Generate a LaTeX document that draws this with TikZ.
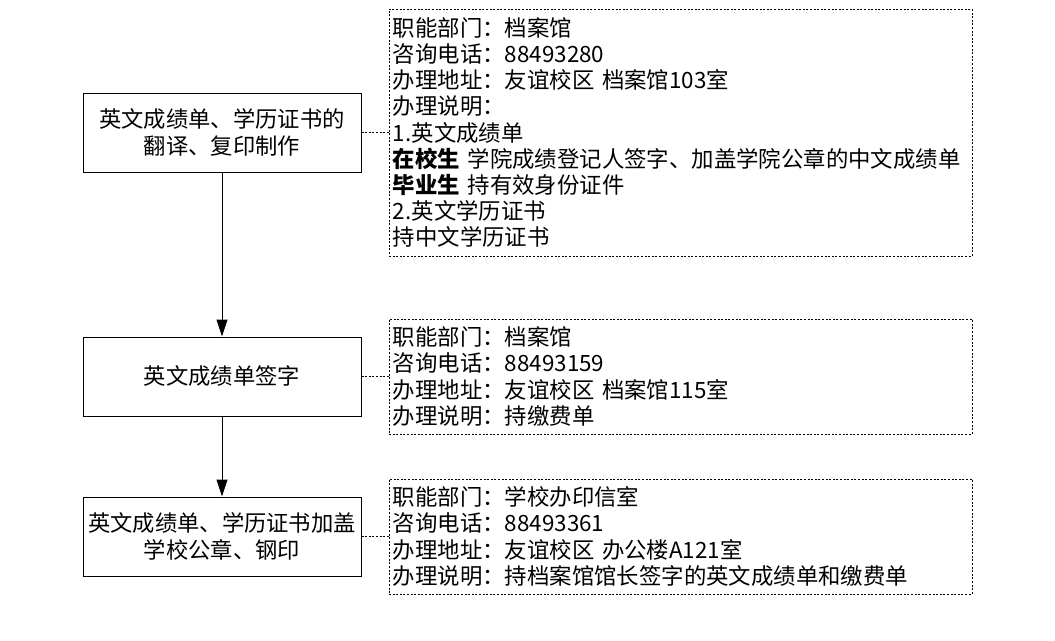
\documentclass[tikz,border=0pt]{standalone}
\usepackage{fontspec}
\newfontfamily\cjk{Noto Sans CJK SC}
\usepackage{tikz}
\usetikzlibrary{positioning,arrows.meta}
\tikzset{
  stepbox/.style={draw, line width=1pt, minimum width=278pt, minimum height=79pt, align=center, inner sep=2pt, font={\cjk\fontsize{22.3pt}{26.2pt}\selectfont}},
  infobox/.style={draw, dash pattern=on 2pt off 1.6pt, line width=0.9pt, text width=575pt, inner xsep=4pt, inner ysep=2pt, align=left, font={\cjk\fontsize{22.4pt}{26.2pt}\selectfont}},
  arr/.style={-{Triangle[length=17pt,width=11pt]}, line width=1pt},
  link/.style={dash pattern=on 2pt off 1.6pt, line width=0.9pt},
}
\begin{document}
\begin{tikzpicture}[x=1pt,y=-1pt]
    \useasboundingbox (0,0) rectangle (1055,640);
    \node[stepbox] (trans) at (222,132.5) {英文成绩单、学历证书的\\翻译、复印制作};
    \node[stepbox, below=164pt of trans] (sign) {英文成绩单签字};
    \node[stepbox, below=80pt of sign] (seal) {英文成绩单、学历证书加盖\\学校公章、钢印};
    \node[infobox, minimum height=247pt, right=27pt of trans] (transinfo)
      {职能部门：档案馆\\ 咨询电话：88493280\\ 办理地址：友谊校区 档案馆103室\\ 办理说明：\\ 1.英文成绩单\\
       \textbf{在校生} 学院成绩登记人签字、加盖学院公章的中文成绩单\\ \textbf{毕业生} 持有效身份证件\\ 2.英文学历证书\\ 持中文学历证书};
    \node[infobox, minimum height=115pt, right=27pt of sign] (signinfo)
      {职能部门：档案馆\\ 咨询电话：88493159\\ 办理地址：友谊校区 档案馆115室\\ 办理说明：持缴费单};
    \node[infobox, minimum height=115pt, right=27pt of seal] (sealinfo)
      {职能部门：学校办印信室\\ 咨询电话：88493361\\ 办理地址：友谊校区 办公楼A121室\\ 办理说明：持档案馆馆长签字的英文成绩单和缴费单};
    \draw[arr] (trans) -- (sign);
    \draw[arr] (sign) -- (seal);
    \draw[link] (trans) -- (transinfo);
    \draw[link] (sign) -- (signinfo);
    \draw[link] (seal) -- (sealinfo);
  \end{tikzpicture}
\end{document}
